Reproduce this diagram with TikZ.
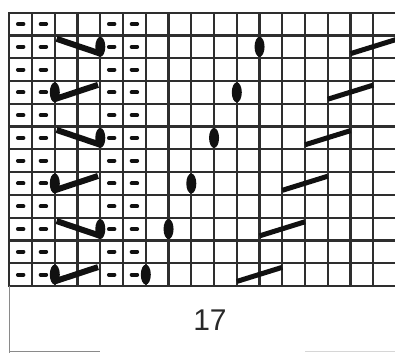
\documentclass[tikz,border=0pt]{standalone}
\usepackage{fontspec}
\setmainfont{Liberation Sans}
\usepackage{xcolor}
\definecolor{cgrid}{HTML}{2E2E2E}
\definecolor{cink}{HTML}{111111}
\definecolor{cframe}{HTML}{8A8A8A}
\definecolor{cfaint}{HTML}{D6D6D6}
\tikzset{
  gridline/.style={draw=cgrid, line width=2.2pt},
  purlbar/.style={cink, line width=4pt, line cap=round},
  cableline/.style={cink, line width=6pt},
  slashline/.style={cink, line width=5pt},
  knotdot/.style={fill=cink},
  boxline/.style={draw=cframe, line width=1.6pt},
  countlabel/.style={text=cink!90, font=\fontsize{30}{36}\selectfont, inner sep=0pt},
}

\begin{document}
\begin{tikzpicture}[x=22.75pt, y=22.78pt]
  \clip (-0.409,-2.941) rectangle (16.954,12.555);
  \foreach \c in {0,...,17} {
    \draw[gridline] (\c,-0.04) -- (\c,12.04);
  }
  \foreach \r in {0,...,12} {
    \draw[gridline] (-0.04,\r) -- (17.04,\r);
  }
  % purl columns
  \foreach \c in {0,1,4,5} {
    \foreach \r in {0,...,11} {
      \draw[purlbar] (\c+0.38,\r+0.5) -- (\c+0.62,\r+0.5);
    }
  }
  % crossings on the left
  \foreach \j in {2,6,10} {
    \draw[cableline] (2.08,\j+0.85) -- (4,\j+0.2);
    \fill[knotdot] (4,\j+0.5) ellipse [x radius=5pt, y radius=10pt];
  }
  \foreach \j in {0,4,8} {
    \draw[cableline] (2.05,\j+0.22) -- (3.9,\j+0.83);
    \fill[knotdot] (2,\j+0.5) ellipse [x radius=5pt, y radius=10pt];
  }
  % travelling dots and slashes
  \foreach \j in {0,2,...,10} {
    \fill[knotdot] (6+\j/2,\j+0.5) ellipse [x radius=5pt, y radius=10pt];
    \draw[slashline] (10+\j/2,\j+0.2) -- (12+\j/2,\j+0.82);
  }
  % label box
  \coordinate (boxtop) at (0,0);
  \coordinate (boxfoot) at (0,-2.941);
  \coordinate (footl) at (0,-2.88);
  \coordinate (footm) at (4,-2.88);
  \coordinate (footn) at (13,-2.88);
  \coordinate (footr) at (17,-2.88);
  \draw[boxline] (boxtop) -- (boxfoot);
  \draw[boxline] (footl) -- (footm);
  \draw[boxline, draw=cfaint] (footn) -- (footr);
  \node[countlabel] (count) at (8.82,-1.49) {17};
\end{tikzpicture}
\end{document}
